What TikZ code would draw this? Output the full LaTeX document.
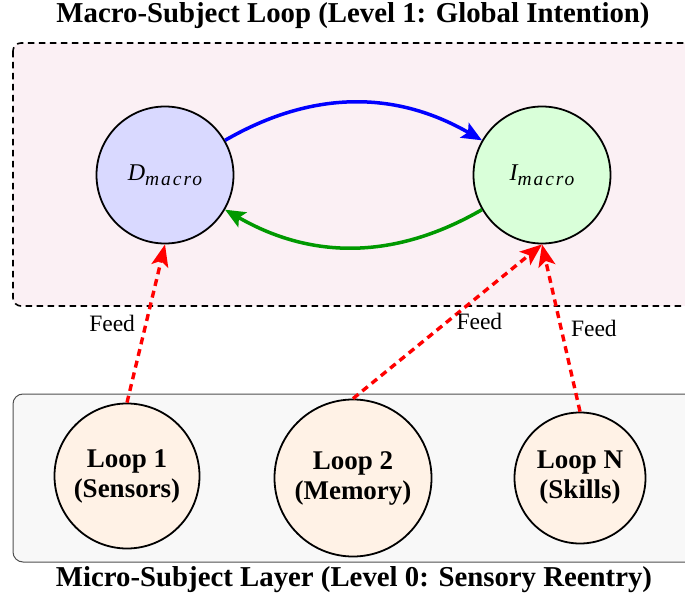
\documentclass[tikz,border=0pt]{standalone}
\usepackage{fontspec}
\setmainfont{Liberation Serif}
\usetikzlibrary{arrows.meta}

\definecolor{macrobg}{RGB}{251,240,244}
\definecolor{microbg}{RGB}{248,248,248}
\definecolor{microborder}{RGB}{80,80,80}
\definecolor{dfill}{RGB}{217,217,255}
\definecolor{ifill}{RGB}{217,255,217}
\definecolor{loopfill}{RGB}{255,242,230}
\definecolor{backgreen}{RGB}{0,153,0}

% italic symbol with a spaced italic subscript, set in the text font
\newcommand{\symsub}[2]{{\fontsize{24}{28}\selectfont\itshape #1}\raisebox{-4.5pt}{\fontsize{19.5}{20}\selectfont\itshape\addfontfeatures{LetterSpace=10}#2}}

\tikzset{
  basefont/.style={font=\fontsize{23.5}{28}\selectfont},
  boldfont/.style={font=\fontsize{27}{30}\selectfont\bfseries},
  titlefont/.style={font=\fontsize{28.8}{32}\selectfont\bfseries},
  macronode/.style={circle, draw=black, line width=1.8, basefont, inner sep=0},
  loopnode/.style={circle, draw=black, line width=1.8, fill=loopfill, boldfont, align=center, inner sep=0},
  loopbend/.style={line width=3.5, -{Stealth[length=20,width=17,inset=4]}},
  feed/.style={red, line width=3.4, dash pattern=on 7 off 5, -{Stealth[length=22,width=17,inset=5]}},
  feedlabel/.style={basefont, text=black}
}

\begin{document}
\begin{tikzpicture}[x=1pt,y=-1pt]
  \useasboundingbox (0,0) rectangle (685,601);

  % level 1 container (runs past the right edge)
  \draw[fill=macrobg, draw=black, line width=1.6, dash pattern=on 6.5 off 4.5, rounded corners=8]
    (13,43) rectangle (705,306);
  % level 0 container
  \draw[fill=microbg, draw=microborder, line width=1, rounded corners=10]
    (13,394) rectangle (705,562);

  % titles
  \node[titlefont] (toptitle) at (353,16) {Macro-Subject Loop (Level 1: Global Intention)};
  \node[titlefont] (bottitle) at (354,580) {Micro-Subject Layer (Level 0: Sensory Reentry)};

  % macro loop
  \node[macronode, fill=dfill, minimum size=137] (D) at (165,175) {\symsub{D}{macro}};
  \node[macronode, fill=ifill, minimum size=137] (I) at (542,175) {\symsub{I}{macro}};

  \draw[loopbend, blue] (D) to[bend left=30] (I);
  \draw[loopbend, backgreen] (I) to[bend left=30] (D);

  % micro loops
  \node[loopnode, minimum size=145] (L1) at (127,476) {Loop 1\\(Sensors)};
  \node[loopnode, minimum size=157] (L2) at (353,478) {Loop 2\\(Memory)};
  \node[loopnode, minimum size=131] (LN) at (580,478) {Loop N\\(Skills)};

  % feed connections
  \draw[feed] (L1.north) -- (D.south)
    node[feedlabel, midway, left, xshift=-6] {Feed};
  \draw[feed] (L2.north) -- (I.south)
    node[feedlabel, midway, right, xshift=4] {Feed};
  \draw[feed] (LN.north) -- (I.south)
    node[feedlabel, midway, right, xshift=5] {Feed};
\end{tikzpicture}
\end{document}
